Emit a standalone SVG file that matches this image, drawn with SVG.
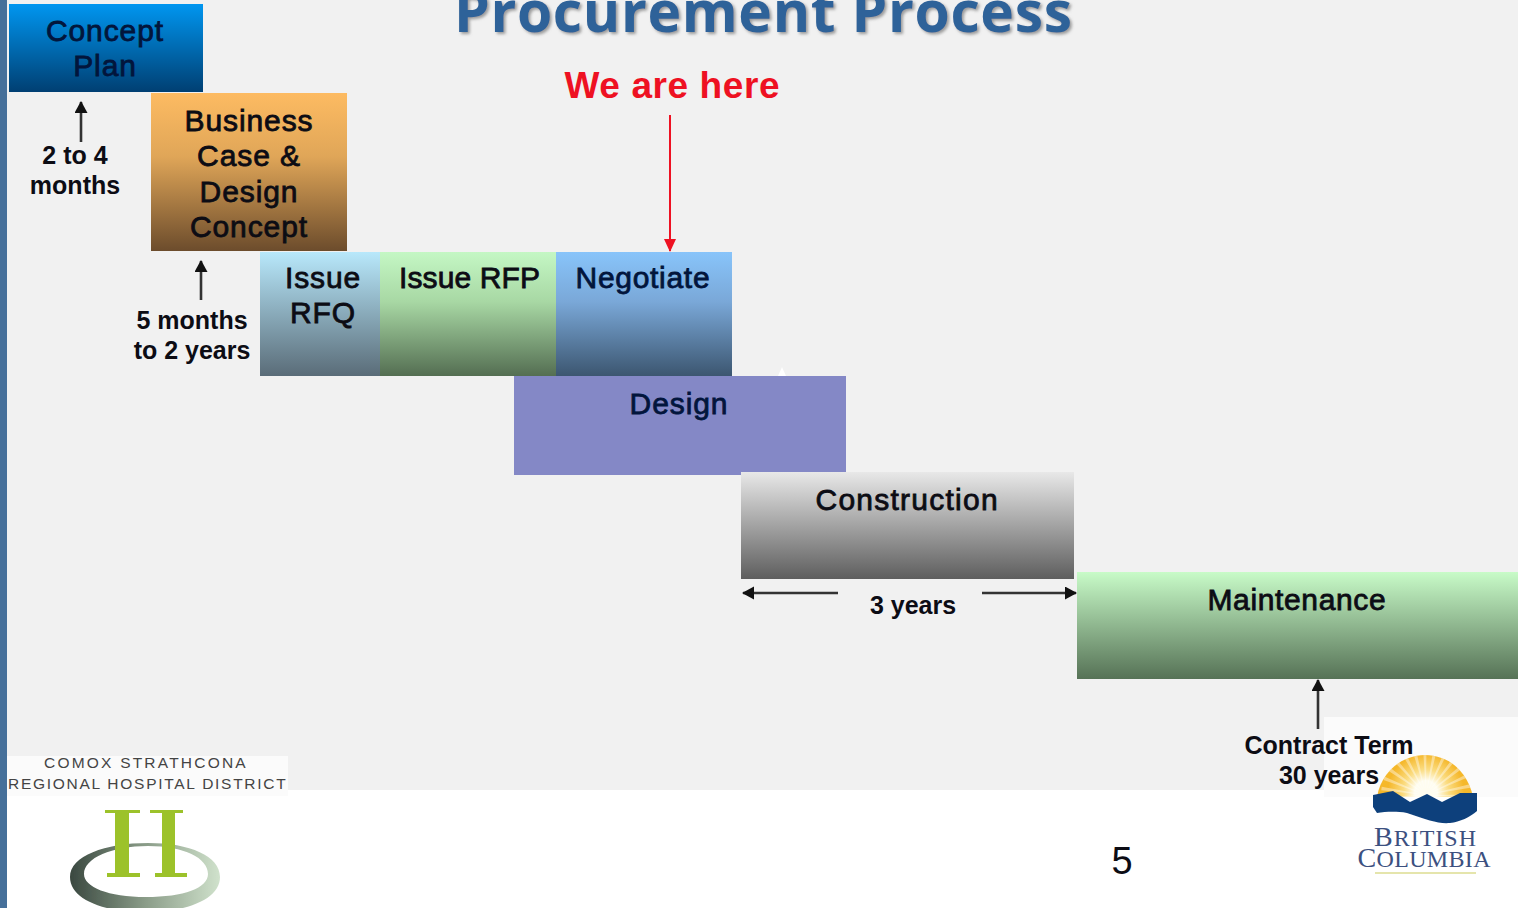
<svg xmlns="http://www.w3.org/2000/svg" width="1518" height="908" viewBox="0 0 1518 908">
<style>
text{font-family:"Liberation Sans",Arial,sans-serif;text-anchor:middle;fill:#0c0c14}
.n{font-size:30px;font-weight:500;stroke:#0c0c14;stroke-width:.8px;letter-spacing:.9px}
.b{fill:#02153c;stroke:#02153c}
.l{font-size:25px;font-weight:700}
.a{stroke:#333;stroke-width:2.6;fill:none;marker-end:url(#ah)}
.bc{font-family:"Liberation Serif",serif;fill:#3c5080;font-size:28px}
.bc tspan{font-size:24px}
.cx{font-size:15.5px;fill:#444;letter-spacing:2.3px}
</style>
<defs>
<marker id="ah" markerWidth="13" markerHeight="14" refX="11" refY="6.5" orient="auto" markerUnits="userSpaceOnUse"><path d="M0 0L12 6.5L0 13Z" fill="#111"/></marker>
<marker id="ar" markerWidth="13" markerHeight="12" refX="12" refY="6" orient="auto" markerUnits="userSpaceOnUse"><path d="M0 0L13 6L0 12Z" fill="#ee1122"/></marker>
<linearGradient id="g1" x2="0" y2="1"><stop offset="0" stop-color="#0096f0"/><stop offset="1" stop-color="#003f72"/></linearGradient>
<linearGradient id="g2" x2="0" y2="1"><stop offset="0" stop-color="#fdbb62"/><stop offset=".4" stop-color="#e0a658"/><stop offset="1" stop-color="#6c4c2c"/></linearGradient>
<linearGradient id="g3" x2="0" y2="1"><stop offset="0" stop-color="#b8e8fb"/><stop offset="1" stop-color="#5a6c78"/></linearGradient>
<linearGradient id="g4" x2="0" y2="1"><stop offset="0" stop-color="#c4f7c4"/><stop offset=".4" stop-color="#a8d8a4"/><stop offset="1" stop-color="#546e52"/></linearGradient>
<linearGradient id="g5" x2="0" y2="1"><stop offset="0" stop-color="#88c4fa"/><stop offset=".4" stop-color="#7aa8d8"/><stop offset="1" stop-color="#3c5670"/></linearGradient>
<linearGradient id="g6" x2="0" y2="1"><stop offset="0" stop-color="#e8e8e8"/><stop offset="1" stop-color="#5e5e5e"/></linearGradient>
<linearGradient id="g7" x2="0" y2="1"><stop offset="0" stop-color="#c8fbc8"/><stop offset="1" stop-color="#567256"/></linearGradient>
<linearGradient id="ring" x2="1" y2="0"><stop offset="0" stop-color="#3a4840"/><stop offset=".5" stop-color="#8a9c88"/><stop offset="1" stop-color="#d0e2cc"/></linearGradient>
<radialGradient id="sun" gradientUnits="userSpaceOnUse" cx="1426" cy="792" r="38"><stop offset=".3" stop-color="#fffdf0"/><stop offset=".6" stop-color="#fbdc80"/><stop offset="1" stop-color="#f5b82c"/></radialGradient>
<clipPath id="arch"><path d="M1377 797C1381 772 1402 755 1425 755C1449 755 1468 772 1473 797Z"/></clipPath>
<filter id="ts" x="-5%" y="-20%" width="110%" height="140%"><feDropShadow dx="2" dy="2" stdDeviation="1.5" flood-color="#777" flood-opacity=".7"/></filter>
<filter id="soft"><feGaussianBlur stdDeviation=".5"/></filter>
</defs>
<rect width="1518" height="908" fill="#fff"/>
<rect x="7" width="1511" height="790" fill="#f1f1f1"/>
<rect x="7" y="756" width="281" height="40" fill="#fbfbfb"/>
<rect x="1324" y="717" width="194" height="80" fill="#fbfbfb"/>
<rect width="7" height="908" fill="#46709a"/>
<text id="title" x="763" y="32" font-size="57" font-weight="700" textLength="618" style="font-family:'Open Sans',sans-serif;fill:#2f6299" filter="url(#ts)">Procurement Process</text>
<text id="here" x="672" y="98" font-size="37" font-weight="700" textLength="215" style="fill:#ee1122">We are here</text>
<g id="connectors">
<path class="a" d="M81 142V102"/>
<path class="a" d="M201 300V261"/>
<path class="a" d="M838 593H743"/>
<path class="a" d="M982 593H1076"/>
<path class="a" d="M1318 729V680"/>
<path d="M670 115V251" stroke="#ee1122" stroke-width="2" fill="none" marker-end="url(#ar)"/>
</g>
<g id="concept-plan"><rect x="9" y="4" width="194" height="88" fill="url(#g1)"/><text class="n b" x="105" y="41">Concept</text><text class="n b" x="105" y="76">Plan</text></g>
<g id="business-case"><rect x="151" y="93" width="196" height="158" fill="url(#g2)"/><text class="n" x="249" y="131">Business</text><text class="n" x="249" y="166">Case &amp;</text><text class="n" x="249" y="202">Design</text><text class="n" x="249" y="237">Concept</text></g>
<g id="issue-rfq"><rect x="260" y="252" width="120" height="124" fill="url(#g3)"/><text class="n" x="323" y="288">Issue</text><text class="n" x="323" y="323">RFQ</text></g>
<g id="issue-rfp"><rect x="380" y="252" width="176" height="124" fill="url(#g4)"/><text class="n" x="470" y="288" textLength="142">Issue RFP</text></g>
<g id="negotiate"><rect x="556" y="252" width="176" height="124" fill="url(#g5)"/><text class="n b" x="643" y="288" textLength="135">Negotiate</text></g>
<g id="design"><path d="M778 376L782 367L786 376Z" fill="#fff"/><rect x="514" y="376" width="332" height="99" fill="#8488c6"/><text class="n b" x="679" y="414">Design</text></g>
<g id="construction"><rect x="741" y="472" width="333" height="107" fill="url(#g6)"/><text class="n" x="907" y="510" textLength="183">Construction</text></g>
<g id="maintenance"><rect x="1077" y="572" width="441" height="107" fill="url(#g7)"/><text class="n" x="1297" y="610" textLength="179">Maintenance</text></g>
<g id="labels">
<text class="l" x="75" y="164">2 to 4</text><text class="l" x="75" y="194">months</text>
<text class="l" x="192" y="329">5 months</text><text class="l" x="192" y="359">to 2 years</text>
<text class="l" x="913" y="614">3 years</text>
<text class="l" x="1329" y="754">Contract Term</text><text class="l" x="1329" y="784">30 years</text>
<text x="1122" y="874" font-size="38">5</text>
</g>
<g id="comox-logo">
<text class="cx" x="146" y="768" textLength="204">COMOX STRATHCONA</text>
<text class="cx" x="148" y="789" textLength="280">REGIONAL HOSPITAL DISTRICT</text>
<g filter="url(#soft)">
<path fill-rule="evenodd" d="M70 877C70 856 105 843 148 843C190 843 220 856 220 877C220 898 190 912 145 912C100 912 70 898 70 877ZM84 874C84 887 108 897 146 897C184 897 208 888 208 874C208 858 184 846 148 846C112 846 84 858 84 874Z" fill="url(#ring)"/>
<path d="M105 810H140V813H129V873H140V877H107V873H115V813H105ZM150 810H183V813H175V873H187V877H155V873H162V813H150Z" fill="#9cc22c"/>
</g>
</g>
<g id="bc-logo">
<g filter="url(#soft)">
<path d="M1377 797C1381 772 1402 755 1425 755C1449 755 1468 772 1473 797Z" fill="url(#sun)"/>
<circle cx="1426" cy="795" r="26" fill="none" stroke="#fff" stroke-opacity=".4" stroke-width="38" stroke-dasharray="2 4" clip-path="url(#arch)"/>
<path d="M1373 795L1393 791L1410 802L1427 794L1442 802L1460 793L1477 793V811C1470 817 1460 822 1450 823C1438 824 1428 820 1407 813C1395 811 1385 812 1377 813L1373 807Z" fill="#11407c"/>
</g>
<text class="bc" x="1425" y="846" textLength="102">B<tspan>RITISH</tspan></text>
<text class="bc" x="1424" y="867" textLength="133">C<tspan>OLUMBIA</tspan></text>
<path d="M1375 873H1476" stroke="#dcdc90" stroke-width="1.5"/>
</g>
</svg>
